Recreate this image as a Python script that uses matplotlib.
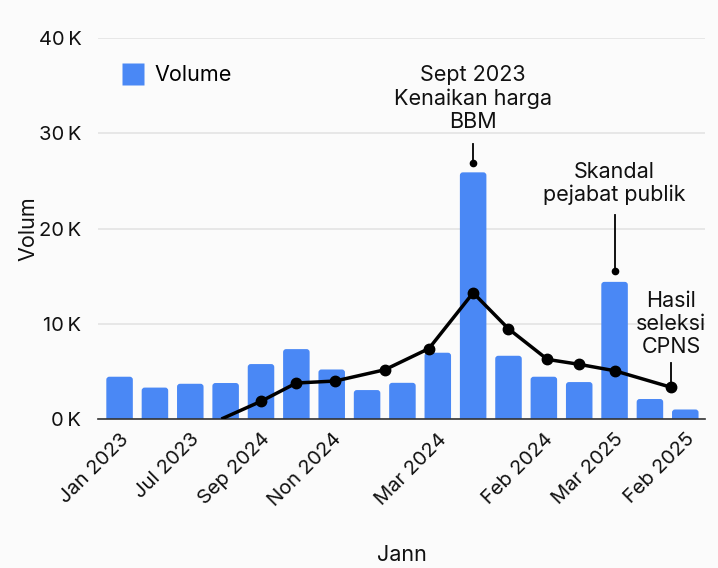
import matplotlib
matplotlib.use("Agg")
import matplotlib.pyplot as plt
from matplotlib.patches import FancyBboxPatch
from matplotlib.lines import Line2D

plt.rcParams['font.family'] = ['Inter', 'DejaVu Sans']

# ---- data ----
volume = [4.44, 3.3, 3.7, 3.78, 5.77, 7.34, 5.2, 3.04, 3.8, 6.96, 25.9, 6.64, 4.44, 3.88, 14.4, 2.1, 1.0]  # thousands
tick_positions = [0, 2, 4, 6, 9, 12, 14, 16]
tick_labels = ["Jan 2023", "Jul 2023", "Sep 2024", "Non 2024", "Mar 2024", "Feb 2024", "Mar 2025", "Feb 2025"]
trend_x = [2.88, 4, 5, 6.1, 7.5, 8.75, 10, 11, 12.1, 13, 14, 15.6]
trend_y = [0.0, 1.86, 3.78, 3.99, 5.17, 7.4, 13.25, 9.47, 6.26, 5.74, 5.07, 3.33]
ann_text = ["Sept 2023\nKenaikan harga\nBBM", "Skandal\npejabat publik", "Hasil\nseleksi\nCPNS"]
ann_x = [10, 14, 15.6]
ann_dot = [26.9, 15.5, 3.33]
ann_line_top = [28.85, 21.4, 5.84]
ann_text_y = [30.55, 22.85, 6.9]
y_ticks = [0, 10, 20, 30, 40]

BAR = "#4a88f5"
BG = "#fbfbfb"

fig = plt.figure(figsize=(7.18, 5.68), dpi=100, facecolor=BG)
ax = fig.add_axes([0.1365, 0.2623, 0.846, 0.6707], facecolor=BG)

xmin, xmax = -0.61, 16.57
ax.set_xlim(xmin, xmax)
ax.set_ylim(0, 40)

# rounded bars
width = 0.75
ax_w_px = 0.846 * 718
ax_h_px = 0.6707 * 568
xpp = (xmax - xmin) / ax_w_px
ypp = 40 / ax_h_px
r = 3 * xpp
for i, v in enumerate(volume):
    p = FancyBboxPatch((i - width / 2, -1), width, v + 1,
                       boxstyle=f"round,pad=0,rounding_size={r}",
                       mutation_aspect=ypp / xpp,
                       facecolor=BAR, edgecolor='none', zorder=2)
    ax.add_patch(p)

# trend line
ax.plot(trend_x, trend_y, color='black', lw=2.5, marker='o', markersize=7.5,
        markevery=list(range(1, len(trend_x))), zorder=4, solid_capstyle='butt')

# annotations
for t, x, d, lt, ty in zip(ann_text, ann_x, ann_dot, ann_line_top, ann_text_y):
    ax.plot([x, x], [d, lt], color='black', lw=1.3, zorder=5)
    ax.plot([x], [d], 'o', color='black', markersize=4.5, zorder=5)
    ax.text(x, ty, t, ha='center', va='baseline', fontsize=15.5, linespacing=1.2,
            color='#111111', zorder=6)

# axes styling
ax.set_yticks(y_ticks)
ax.set_yticklabels([f"{v}\u2009K" for v in y_ticks], fontsize=14.5, color='#111111')
ax.set_xticks(tick_positions)
ax.set_xticklabels(tick_labels, rotation=45, ha='right', rotation_mode='anchor',
                   fontsize=14.5, color='#111111')
ax.tick_params(axis='both', length=0)
ax.tick_params(axis='x', pad=8)
ax.tick_params(axis='y', pad=12)
for s in ['top', 'right', 'left']:
    ax.spines[s].set_visible(False)
ax.spines['bottom'].set_color('#333333')
ax.spines['bottom'].set_linewidth(1.2)
ax.spines['bottom'].set_zorder(3)
ax.grid(axis='y', color='#e3e3e3', lw=1.2, zorder=0)
ax.set_axisbelow(True)

ax.set_ylabel("Volum", fontsize=15.5, color='#111111', labelpad=0)
ax.set_xlabel("Jann", fontsize=15.5, color='#111111', labelpad=25)

handle = Line2D([], [], marker='s', color='none', markerfacecolor=BAR,
                markeredgecolor='none', markersize=16)
leg = ax.legend([handle], ["Volume"], loc='upper left', frameon=False, fontsize=15.5,
                bbox_to_anchor=(0.008, 0.98), handlelength=1.0, handletextpad=0.5)

fig.savefig("out.png", dpi=100, facecolor=BG)
